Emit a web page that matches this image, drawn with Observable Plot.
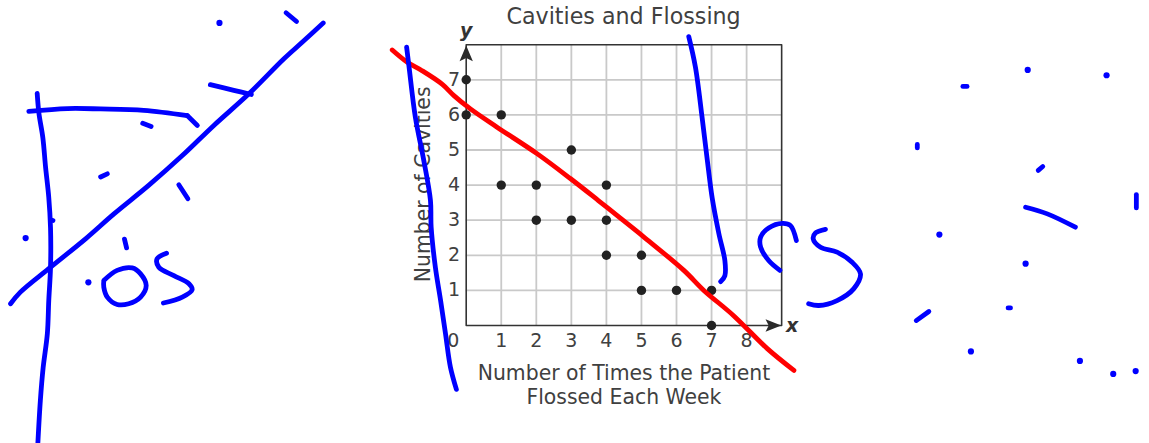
<!DOCTYPE html>
<html>
<head>
<meta charset="utf-8">
<style>
html,body{margin:0;padding:0;background:#fff;overflow:hidden}
svg{display:block}
</style>
<script src="https://cdn.jsdelivr.net/npm/d3@7"></script>
<script src="https://cdn.jsdelivr.net/npm/@observablehq/plot@0.6"></script>
</head>
<body>
<div id="chart"></div>
<script>
// Chart content, in the chart's own units (times flossed, cavities)
const title = "Cavities and Flossing";
const xLabelLines = ["Number of Times the Patient", "Flossed Each Week"];
const yLabel = "Number of Cavities";
const xTicks = [0,1,2,3,4,5,6,7,8];
const yTicks = [1,2,3,4,5,6,7];
const flosses = [0,0,1,3,1,2,4,2,3,4,4,5,5,6,7,7];
const cavities = [7,6,6,5,4,4,4,3,3,3,2,2,1,1,1,0];

// Handwritten ink on top of the chart, read in the same units
const redStroke = [[-2.11,7.85],[-1.68,7.50],[-1.26,7.26],[-0.68,6.87],[-0.35,6.55],[0.12,6.17],[0.88,5.65],[2.03,4.89],[2.98,4.18],[3.77,3.56],[4.31,3.13],[5.07,2.52],[6.21,1.57],[6.78,1.00],[7.63,0.28],[8.59,-0.66],[9.35,-1.28]];
const blueStrokes = [
  [[-12.24,6.61],[-12.19,6.04],[-12.08,5.36],[-12.00,4.50],[-11.91,3.65],[-11.86,2.79],[-11.86,1.65],[-11.91,0.71],[-11.95,-0.23],[-12.07,-1.20],[-12.15,-2.14],[-12.22,-3.33]],
  [[-12.48,6.10],[-11.38,6.18],[-10.43,6.17],[-9.20,6.13],[-7.96,5.98]],
  [[-7.96,5.98],[-7.67,5.70]],
  [[-13.00,0.62],[-12.72,0.95],[-11.91,1.62],[-10.86,2.47],[-10.05,3.18],[-9.06,3.99],[-8.10,4.84],[-7.20,5.70],[-6.20,6.60],[-5.20,7.60],[-4.68,8.07],[-4.08,8.62]],
  [[-7.30,6.86],[-6.63,6.70],[-6.13,6.58]],
  [[-5.14,8.91],[-4.84,8.66]],
  [[-9.23,5.76],[-8.99,5.67]],
  [[-10.43,4.23],[-10.24,4.32]],
  [[-8.20,4.01],[-7.94,3.61]],
  [[-9.75,2.46],[-9.69,2.21]],
  [[-11.86,3.01],[-11.79,2.99]],
  [[-10.34,1.28],[-9.96,1.57],[-9.53,1.64],[-9.29,1.47],[-9.13,1.14],[-9.29,0.81],[-9.63,0.62],[-9.96,0.60],[-10.24,0.81],[-10.34,1.09],[-10.34,1.28]],
  [[-8.55,2.06],[-8.82,1.90],[-8.77,1.66],[-8.34,1.42],[-7.91,1.19],[-7.82,1.02],[-8.10,0.81],[-8.64,0.64]],
  [[-1.70,7.93],[-1.63,7.36],[-1.45,5.93],[-1.21,4.70],[-1.02,3.56],[-1.00,2.80],[-0.88,1.66],[-0.73,0.71],[-0.59,-0.24],[-0.45,-1.19],[-0.28,-1.82]],
  [[6.35,8.23],[6.54,7.36],[6.73,5.93],[6.88,4.70],[7.02,3.62],[7.21,2.61],[7.38,1.85],[7.38,1.42],[7.26,1.25]],
  [[8.95,1.57],[8.63,1.85],[8.40,2.23],[8.40,2.52],[8.63,2.78],[9.02,2.91],[9.25,2.85],[9.42,2.42]],
  [[10.25,2.74],[9.97,2.64],[9.90,2.47],[10.11,2.23],[10.58,2.09],[11.01,1.80],[11.25,1.47],[11.06,1.05],[10.58,0.71],[10.06,0.57],[9.77,0.62]],
  [[15.96,3.37],[16.58,3.18],[17.38,2.80]],
  [[19.12,3.73],[19.12,3.35]],
  [[16.32,4.42],[16.45,4.53]],
  [[12.84,0.14],[13.20,0.40]],
  [[14.17,6.81],[14.29,6.81]],
  [[12.87,5.16],[12.87,5.06]],
  [[15.46,0.50],[15.53,0.50]]
];
const blueSpecks = [[-7.04,8.62],[-12.57,2.49],[-10.78,1.23],[16.02,7.28],[18.27,7.13],[13.50,2.59],[15.96,1.76],[14.40,-0.74],[17.51,-1.01],[18.46,-1.38],[19.10,-1.30]];

// Axis arrowheads and plot frame, in chart units
const frame = [[0,0],[9,0],[9,8],[0,8],[0,0]];
const yArrow = [[0,7.98],[0.19,7.53],[0,7.62],[-0.19,7.53]];
const xArrow = [[8.99,0],[8.54,0.18],[8.63,0],[8.54,-0.18]];

const blueRows = blueStrokes.flatMap((s, i) => s.map(p => ({x: p[0], y: p[1], z: i})));
const font = "'DejaVu Sans', Verdana, sans-serif";
const textColor = "#404040";

const chart = Plot.plot({
  width: 1149,
  height: 443,
  margin: 0,
  style: {background: "#fff", fontFamily: font},
  x: {axis: null, domain: [-13.287, 19.495]},
  y: {axis: null, domain: [-3.362, 9.259]},
  marks: [
    Plot.ruleX(xTicks.slice(1), {y1: 0, y2: 8, stroke: "#c9c9c9", strokeWidth: 1.8}),
    Plot.ruleY(yTicks, {x1: 0, x2: 9, stroke: "#c9c9c9", strokeWidth: 1.8}),
    Plot.line(frame, {x: d => d[0], y: d => d[1], stroke: "#333", strokeWidth: 1.6}),
    Plot.line(yArrow, {x: d => d[0], y: d => d[1], fill: "#2a2a2a", stroke: "none"}),
    Plot.line(xArrow, {x: d => d[0], y: d => d[1], fill: "#2a2a2a", stroke: "none"}),
    Plot.dot(flosses.map((x, i) => ({x, y: cavities[i]})), {x: "x", y: "y", r: 4.7, fill: "#222", stroke: "none"}),
    Plot.text(xTicks, {x: d => d === 0 ? -0.37 : d, y: -0.45, text: d => String(d), fontSize: 19, fill: textColor}),
    Plot.text(yTicks, {x: -0.35, y: d => d, text: d => String(d), fontSize: 19, fill: textColor}),
    Plot.text([title], {x: 4.49, y: 8.78, text: d => d, fontSize: 22.2, fill: textColor}),
    Plot.text(xLabelLines, {x: 4.5, y: (d, i) => [-1.38, -2.06][i], text: d => d, fontSize: 20.4, fill: textColor}),
    Plot.text([yLabel], {x: -1.22, y: 4.02, text: d => d, rotate: -90, fontSize: 20.4, fill: textColor}),
    Plot.text(["y"], {x: 0, y: 8.38, text: d => d, fontSize: 19, fontWeight: "bold", fontStyle: "italic", fill: "#333"}),
    Plot.text(["x"], {x: 9.3, y: 0, text: d => d, fontSize: 19, fontWeight: "bold", fontStyle: "italic", fill: "#333"}),
    Plot.line(redStroke, {x: d => d[0], y: d => d[1], stroke: "#ff0000", strokeWidth: 4.8, curve: "catmull-rom", strokeLinecap: "round", strokeLinejoin: "round"}),
    Plot.line(blueRows, {x: "x", y: "y", z: "z", stroke: "#0000ff", strokeWidth: 4.8, curve: "catmull-rom", strokeLinecap: "round", strokeLinejoin: "round"}),
    Plot.dot(blueSpecks, {x: d => d[0], y: d => d[1], r: 3.1, fill: "#0000ff", stroke: "none"})
  ]
});
document.getElementById("chart").appendChild(chart);
</script>
</body>
</html>
